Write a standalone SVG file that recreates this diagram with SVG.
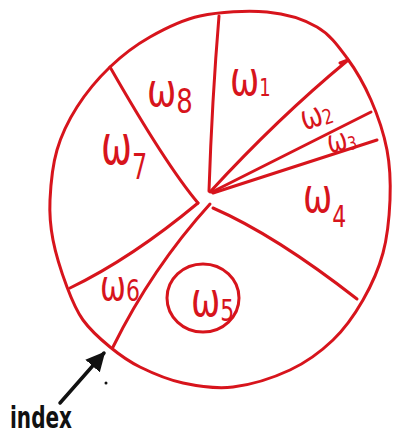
<svg xmlns="http://www.w3.org/2000/svg" width="393" height="441" viewBox="0 0 393 441">
<style>
.ln{fill:none;stroke:#d7141c;stroke-width:3;stroke-linecap:round;stroke-linejoin:round}
.lb{fill:#d7141c;font-family:"DejaVu Sans",sans-serif}
.blk{fill:#111;font-family:"DejaVu Sans",sans-serif;font-weight:bold}
</style>
<defs>
<marker id="ah" viewBox="0 0 10 10" refX="9" refY="5" markerWidth="5.5" markerHeight="5.5" orient="auto" markerUnits="strokeWidth">
<path d="M0,0 L10,5 L0,10 Z" fill="#111"/>
</marker>
</defs>
<rect width="393" height="441" fill="#fff"/>
<g id="wheel">
<path class="ln" stroke-width="3.2" d="M110,67 C122.2,55.3 135,45.5 150,37 C165,28.5 180.5,20.2 200,16 C219.5,11.8 247.5,10.2 267,12 C286.5,13.8 303.7,19.3 317,27 C330.3,34.7 338,45.8 347,58 C356,70.2 364.3,84.7 371,100 C377.7,115.3 383.8,133.3 387,150 C390.2,166.7 390.7,182.8 390,200 C389.3,217.2 387.5,236.3 383,253 C378.5,269.7 371.3,285.5 363,300 C354.7,314.5 345.2,328.3 333,340 C320.8,351.7 306.7,362.2 290,370 C273.3,377.8 250.8,384.8 233,387 C215.2,389.2 198.5,386.3 183,383 C167.5,379.7 152.2,373 140,367 C127.8,361 119.5,354.8 110,347 C100.5,339.2 90.2,330 83,320 C75.8,310 72,300.3 67,287 C62,273.7 55.8,254.5 53,240 C50.2,225.5 49.3,215 50,200 C50.7,185 52.5,165.5 57,150 C61.5,134.5 68.2,120.8 77,107 C85.8,93.2 97.8,78.7 110,67 Z"/>
</g>
<g id="dividers">
<path class="ln" d="M219,16 Q212,100 209,191"/>
<path class="ln" d="M210,192 Q278,118 347,61 M340,63 L348,60"/>
<path class="ln" d="M212,192 L371,112"/>
<path class="ln" d="M213,193 L377,140"/>
<path class="ln" d="M110,67 Q166,165 198,203"/>
<path class="ln" d="M70,288 Q132,258 198,203"/>
<path class="ln" d="M113,347 Q152,268 210,204"/>
<path class="ln" d="M213,208 Q275,235 357,299"/>
</g>
<g id="w1"><text class="lb" transform="translate(230,95) scale(1,1.35)" font-size="35">ω<tspan font-size="18" dy="1">1</tspan></text></g>
<g id="w2"><text class="lb" transform="rotate(-18 317 118) translate(301,126) scale(1,1.3)" font-size="26">ω<tspan font-size="16" dy="1">2</tspan></text></g>
<g id="w3"><text class="lb" transform="rotate(-12 343 141) translate(327,150) scale(1,1.3)" font-size="24">ω<tspan font-size="14" dy="1">3</tspan></text></g>
<g id="w4"><text class="lb" transform="translate(303,212) scale(1,1.35)" font-size="35">ω<tspan font-size="22" dy="11">4</tspan></text></g>
<g id="w5">
<ellipse class="ln" cx="203" cy="298" rx="36" ry="34"/>
<text class="lb" transform="translate(191,316) scale(1,1.35)" font-size="35">ω<tspan font-size="22" dy="4">5</tspan></text>
</g>
<g id="w6"><text class="lb" transform="translate(100,300) scale(1,1.35)" font-size="31">ω<tspan font-size="22" dy="1">6</tspan></text></g>
<g id="w7"><text class="lb" transform="translate(101,164) scale(1,1.5)" font-size="37">ω<tspan font-size="24" dy="10">7</tspan></text></g>
<g id="w8"><text class="lb" transform="translate(147,106) scale(1,1.3)" font-size="35">ω<tspan font-size="26" dy="5">8</tspan></text></g>
<g id="index">
<line x1="60" y1="403" x2="104" y2="353" stroke="#111" stroke-width="3.5" stroke-linecap="round" marker-end="url(#ah)"/>
<circle cx="106" cy="383" r="1.5" fill="#111"/>
<text class="blk" x="10" y="428" font-size="31" textLength="62" lengthAdjust="spacingAndGlyphs">index</text>
</g>
</svg>
